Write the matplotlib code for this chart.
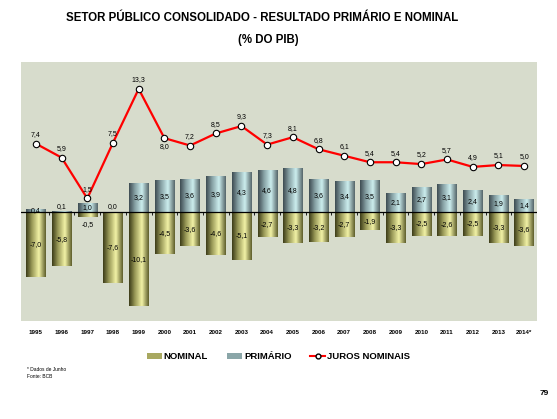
import numpy as np
import matplotlib
matplotlib.use("Agg")
import matplotlib.pyplot as plt
from matplotlib.colors import LinearSegmentedColormap
from matplotlib.patches import Patch
from matplotlib.lines import Line2D

plt.rcParams['font.family'] = ['Liberation Sans', 'DejaVu Sans']

years = ['1995', '1996', '1997', '1998', '1999', '2000', '2001', '2002', '2003', '2004',
         '2005', '2006', '2007', '2008', '2009', '2010', '2011', '2012', '2013', '2014*']
nominal = [-7.0, -5.8, -0.5, -7.6, -10.1, -4.5, -3.6, -4.6, -5.1, -2.7,
           -3.3, -3.2, -2.7, -1.9, -3.3, -2.5, -2.6, -2.5, -3.3, -3.6]
primario = [0.4, 0.1, 1.0, 0.0, 3.2, 3.5, 3.6, 3.9, 4.3, 4.6,
            4.8, 3.6, 3.4, 3.5, 2.1, 2.7, 3.1, 2.4, 1.9, 1.4]
juros = [7.4, 5.9, 1.5, 7.5, 13.3, 8.0, 7.2, 8.5, 9.3, 7.3,
         8.1, 6.8, 6.1, 5.4, 5.4, 5.2, 5.7, 4.9, 5.1, 5.0]

def fmt(v):
    return f'{v:.1f}'.replace('.', ',')

cmap_nom = LinearSegmentedColormap.from_list('nom', [(0, '#3c3c18'), (0.3, '#9a9a58'),
                                                     (0.65, '#f2f2a6'), (1, '#5e5e2c')])
cmap_pri = LinearSegmentedColormap.from_list('pri', [(0, '#3e4c52'), (0.3, '#86a0a4'),
                                                     (0.65, '#cceeee'), (1, '#56666a')])
grad = np.linspace(0, 1, 64).reshape(1, -1)

fig = plt.figure(figsize=(5.57, 4.19), dpi=100)
ax = fig.add_axes([0.0377, 0.234, 0.9263, 0.618])
ax.set_facecolor('#d7dccc')
for s in ax.spines.values():
    s.set_visible(False)

x = np.arange(len(years))
w = 0.75

def grad_bars(vals, cmap):
    bars = ax.bar(x, vals, w, color='none', edgecolor='none', zorder=2)
    for b in bars:
        x0, y0 = b.get_x(), b.get_y()
        x1, y1 = x0 + b.get_width(), y0 + b.get_height()
        if y1 == y0:
            continue
        im = ax.imshow(grad, cmap=cmap, aspect='auto', extent=(x0, x1, min(y0, y1), max(y0, y1)),
                       zorder=2, interpolation='bilinear')
        im.set_clip_path(b)
    return bars

grad_bars(nominal, cmap_nom)
grad_bars(primario, cmap_pri)

ax.plot(x, juros, color='red', lw=1.6, marker='o', ms=4.6, mfc='white', mec='black',
        mew=0.8, zorder=4)

ax.axhline(0, color='black', lw=0.9, zorder=3)
ax.set_xlim(-0.58, 19.5)
ax.set_ylim(-11.7, 16.2)
ax.set_xticks([])
ax.set_yticks([])
ax.vlines(x + 0.5, -0.25, 0, color='black', lw=0.6, zorder=3)

# value labels
for i in range(len(years)):
    n, p, j = nominal[i], primario[i], juros[i]
    if n < -1:
        ax.text(i, n / 2, fmt(n), ha='center', va='center', fontsize=5, zorder=5)
    else:
        ax.text(i, n - 0.4, fmt(n), ha='center', va='top', fontsize=5, zorder=5)
    if p >= 0.4:
        ax.text(i, max(p / 2, 0.2), fmt(p), ha='center', va='center', fontsize=5, zorder=5)
    else:
        ax.text(i, p + 0.2, fmt(p), ha='center', va='bottom', fontsize=5, zorder=5)
    if years[i] == '2000':
        ax.text(i, j - 0.5, fmt(j), ha='center', va='top', fontsize=5, zorder=5)
    else:
        ax.text(i, j + 0.6, fmt(j), ha='center', va='bottom', fontsize=5, zorder=5)

for i, yr in enumerate(years):
    ax.text(i, -0.035, yr, transform=ax.get_xaxis_transform(), ha='center', va='top',
            fontsize=4.5, fontweight='bold')

fig.text(0.471, 0.958, 'SETOR PÚBLICO CONSOLIDADO - RESULTADO PRIMÁRIO E NOMINAL',
         ha='center', va='center', fontsize=8.3, fontweight='bold')
fig.text(0.481, 0.904, '(% DO PIB)', ha='center', va='center', fontsize=8.3, fontweight='bold')

handles = [Patch(facecolor='#a8a860', edgecolor='none'),
           Patch(facecolor='#8aa6a8', edgecolor='none'),
           Line2D([], [], color='red', lw=1.5, marker='o', ms=3.5, mfc='white', mec='black')]
fig.legend(handles, ['NOMINAL', 'PRIMÁRIO', 'JUROS NOMINAIS'], loc='center',
           bbox_to_anchor=(0.5, 0.148), ncol=3, frameon=False,
           handlelength=1.6, handleheight=0.5, handletextpad=0.2, columnspacing=2.0,
           prop={'weight': 'bold', 'size': 6.8})

fig.text(0.048, 0.118, '* Dados de Junho', fontsize=3.5, va='center')
fig.text(0.048, 0.102, 'Fonte: BCB', fontsize=3.5, va='center')
fig.text(0.986, 0.06, '79', fontsize=6, fontweight='bold', ha='right', va='center')

fig.savefig('out.png', dpi=100)
